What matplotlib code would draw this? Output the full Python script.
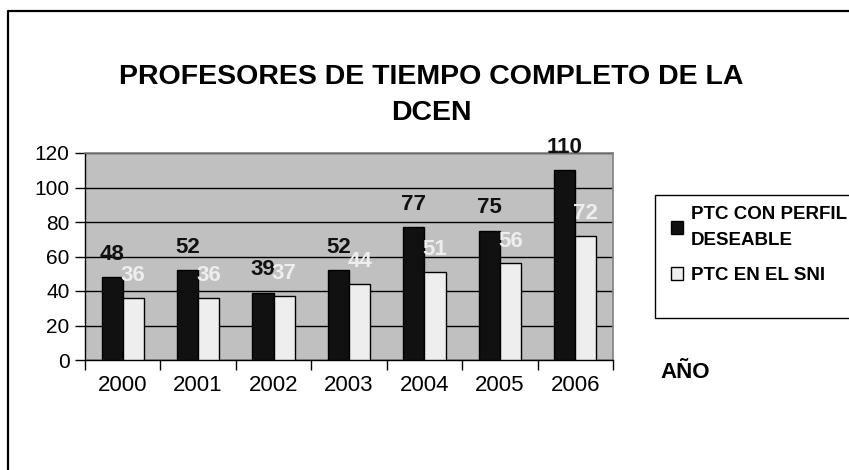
import numpy as np
import matplotlib.pyplot as plt
from matplotlib.patches import Rectangle
from matplotlib.lines import Line2D

plt.rcParams['font.family'] = ['Liberation Sans', 'DejaVu Sans']

# data
years = ['2000', '2001', '2002', '2003', '2004', '2005', '2006']
perfil = [48, 52, 39, 52, 77, 75, 110]
sni = [36, 36, 37, 44, 51, 56, 72]
series_names = ['PTC CON PERFIL\nDESEABLE', 'PTC EN EL SNI']
title = 'PROFESORES DE TIEMPO COMPLETO DE LA\nDCEN'

W, H = 849, 470
fig = plt.figure(figsize=(W / 100, H / 100), dpi=100)

# plot area in pixels: x 85..613, y 153..360
ax = fig.add_axes([85 / W, 1 - 360 / H, (613 - 85) / W, (360 - 153) / H])
ax.set_facecolor('#c0c0c0')

x = np.arange(len(years))
bw = 0.28
b1 = ax.bar(x - bw / 2, perfil, bw, color='#111111', edgecolor='black', linewidth=1, zorder=3)
b2 = ax.bar(x + bw / 2, sni, bw, color='#eeeeee', edgecolor='black', linewidth=1, zorder=3)

for xi, v in zip(x, perfil):
    ax.annotate(str(v), (xi - bw / 2, v), xytext=(0, 16.5), textcoords='offset points',
                ha='center', va='center', fontsize=16, fontweight='bold', color='#111111', zorder=4)
for xi, v in zip(x, sni):
    ax.annotate(str(v), (xi + bw / 2, v), xytext=(0, 16), textcoords='offset points',
                ha='center', va='center', fontsize=16, fontweight='bold', color='#eeeeee', zorder=4)

ax.set_xlim(-0.5, len(years) - 0.5)
ax.set_ylim(0, 120)
ax.set_yticks(range(0, 121, 20))
ax.yaxis.grid(True, color='black', linewidth=1, zorder=1)
ax.tick_params(axis='y', direction='out', length=7, width=1, labelsize=15, pad=4)

# years as minor-tick labels, tick marks on category boundaries
ax.set_xticks(np.arange(-0.5, len(years), 1))
ax.set_xticklabels([])
ax.set_xticks(x, minor=True)
ax.set_xticklabels(years, minor=True)
ax.tick_params(axis='x', which='major', direction='out', length=7, width=1)
ax.tick_params(axis='x', which='minor', length=0, labelsize=16, pad=10.5)

for side in ['left', 'bottom']:
    ax.spines[side].set_color('black')
    ax.spines[side].set_linewidth(1)
for side in ['top', 'right']:
    ax.spines[side].set_color('#808080')
    ax.spines[side].set_linewidth(1.2)

fig.text(431 / W, 1 - 95 / H, title, ha='center', va='center', fontsize=20.5,
         fontweight='bold', linespacing=1.55)

# legend box running off the right edge
fig.patches.append(Rectangle((655 / W, 1 - 318 / H), (W + 5 - 655) / W, (318 - 195) / H,
                             transform=fig.transFigure, facecolor='white', edgecolor='black',
                             linewidth=1, clip_on=False))
leg = fig.legend([b1, b2], series_names, loc='upper left', bbox_to_anchor=(658 / W, 1 - 193 / H),
                 frameon=False, prop={'weight': 'bold', 'size': 13.5}, handlelength=0.65,
                 handleheight=0.65, handletextpad=0.4, labelspacing=1.0, borderpad=0.2)
for t in leg.get_texts():
    t.set_linespacing(1.65)

fig.text(660 / W, 1 - 373 / H, 'AÑO', ha='left', va='center', fontsize=16, fontweight='bold')

# outer border (left and top only)
fig.add_artist(Line2D([8 / W, 8 / W, 1.0], [0.0, 1 - 11 / H, 1 - 11 / H],
                      transform=fig.transFigure, color='black', linewidth=1.6))

fig.savefig('out.png', dpi=100, facecolor='white')
